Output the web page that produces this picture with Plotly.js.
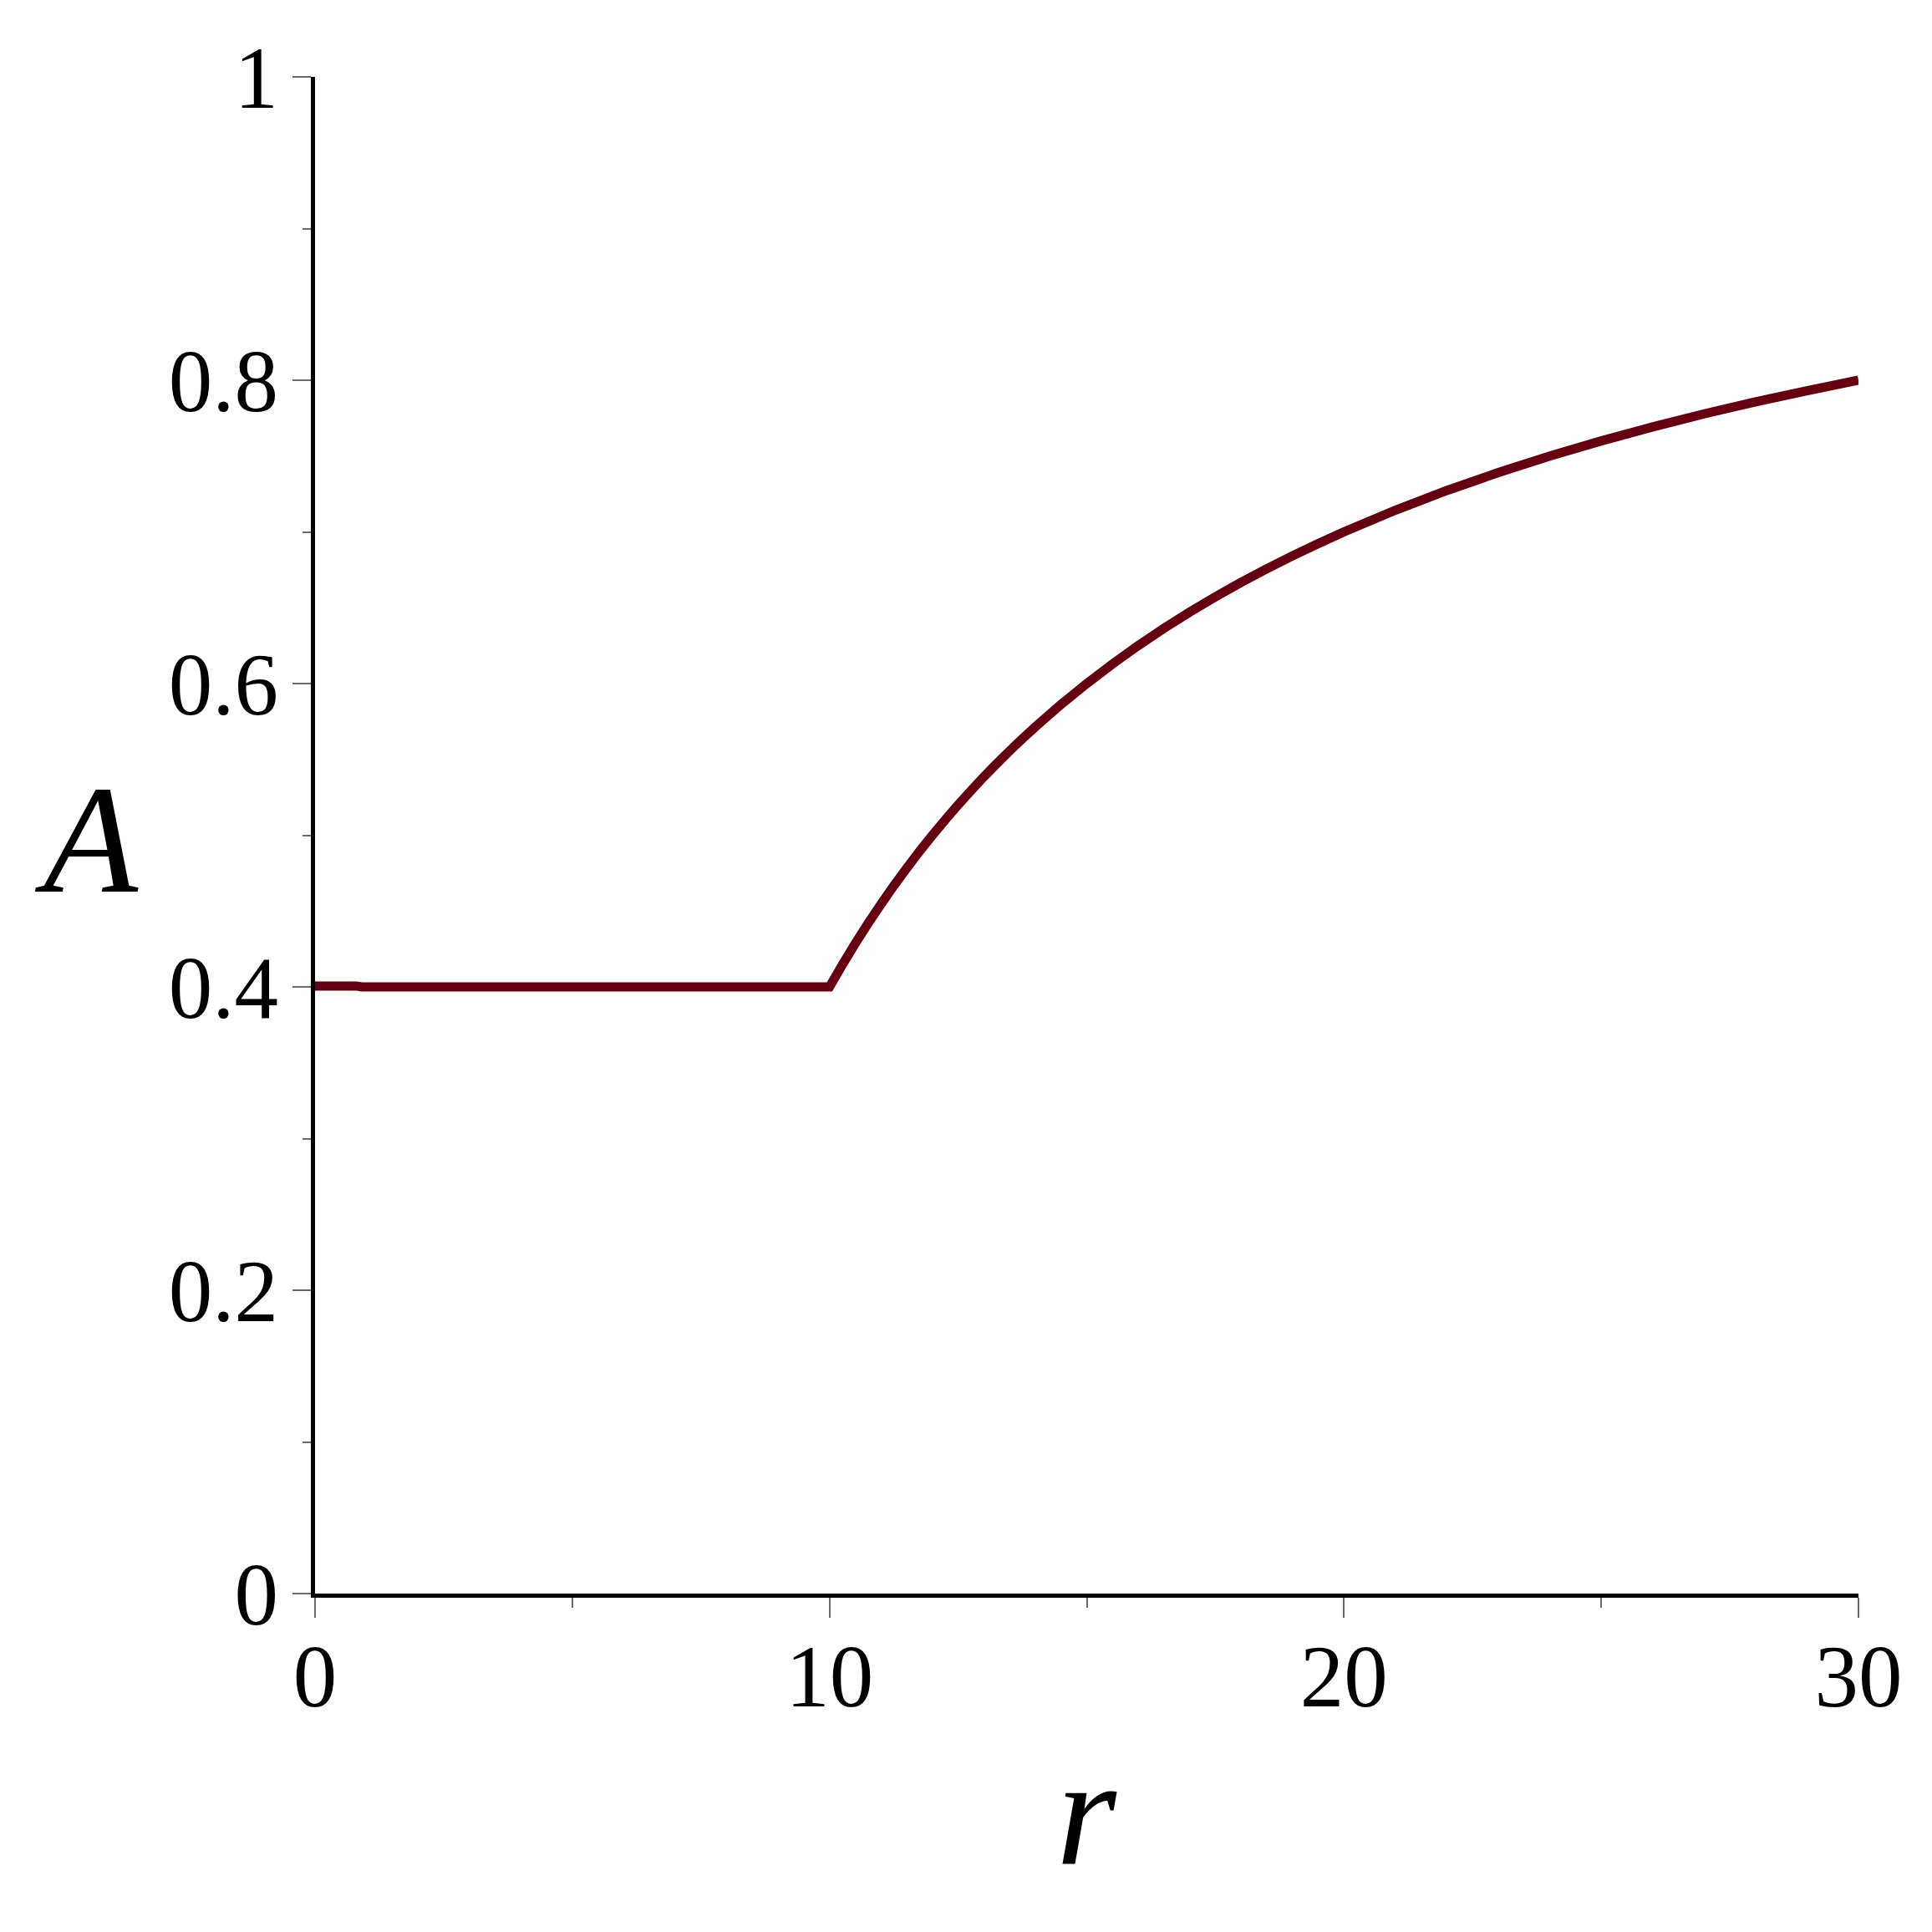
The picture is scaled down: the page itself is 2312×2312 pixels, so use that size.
<!DOCTYPE html>
<html>
<head>
<meta charset="utf-8">
<script src="https://cdn.plot.ly/plotly-3.0.1.min.js"></script>
<style>html,body{margin:0;padding:0;background:#fff;}#chart{width:2312px;height:2312px;}</style>
</head>
<body>
<div id="chart"></div>
<script>
// Data
const rFlat = [0, 0.8, 0.9, 2, 4, 6, 8, 10];
const aFlat = [0.4006, 0.4006, 0.4000, 0.4000, 0.4000, 0.4000, 0.4000, 0.4000];
const rRise = [10, 10.25, 10.5, 10.75, 11, 11.25, 11.5, 11.75, 12, 12.25, 12.5, 12.75, 13, 13.25, 13.5, 13.75, 14, 14.5, 15, 15.5, 16, 16.5, 17, 17.5, 18, 18.5, 19, 19.5, 20, 21, 22, 23, 24, 25, 26, 27, 28, 29, 30];
const aRise = [0.4000, 0.4146, 0.4286, 0.4419, 0.4545, 0.4667, 0.4783, 0.4894, 0.5000, 0.5102, 0.5200, 0.5294, 0.5385, 0.5472, 0.5556, 0.5636, 0.5714, 0.5862, 0.6000, 0.6129, 0.6250, 0.6364, 0.6471, 0.6571, 0.6667, 0.6757, 0.6842, 0.6923, 0.7000, 0.7143, 0.7273, 0.7391, 0.7500, 0.7600, 0.7692, 0.7778, 0.7857, 0.7931, 0.8000];
const xTickVals = [0, 10, 20, 30];
const xTickText = ["0", "10", "20", "30"];
const yTickVals = [0, 0.2, 0.4, 0.6, 0.8, 1];
const yTickText = ["0", "0.2", "0.4", "0.6", "0.8", "1"];
const xLabel = "r";
const yLabel = "A";

function fontAvailable(name) {
  const c = document.createElement("canvas").getContext("2d");
  const sample = "0.8 10 20 30 A r mmmwwwiii";
  const bases = ["monospace", "sans-serif"];
  for (const b of bases) {
    c.font = "72px " + b;
    const w0 = c.measureText(sample).width;
    c.font = "72px \"" + name + "\", " + b;
    const w1 = c.measureText(sample).width;
    if (Math.abs(w1 - w0) > 0.5) return true;
  }
  return false;
}
const candidates = ["Liberation Serif", "Times New Roman", "Tinos", "Nimbus Roman", "DejaVu Serif Condensed", "DejaVu Serif"];
let chosen = null;
for (const f of candidates) { if (fontAvailable(f)) { chosen = f; break; } }
const serif = chosen ? ("\"" + chosen + "\", serif") : "serif";
const curveColor = "#650010";

// one continuous curve: flat part followed by the rising part
const rAll = rFlat.concat(rRise.slice(1));
const aAll = aFlat.concat(aRise.slice(1));

const traces = [
  {
    x: rAll, y: aAll, type: "scatter", mode: "lines",
    line: {color: curveColor, width: 11, simplify: false},
    hoverinfo: "skip", showlegend: false
  }
];

const layout = {
  width: 2312,
  height: 2312,
  margin: {l: 377, r: 88, t: 92, b: 405, pad: 0},
  paper_bgcolor: "#ffffff",
  plot_bgcolor: "#ffffff",
  showlegend: false,
  xaxis: {
    range: [0, 30],
    showgrid: false,
    zeroline: false,
    showline: true,
    linecolor: "#000000",
    linewidth: 5,
    ticks: "outside",
    ticklen: 24,
    tickwidth: 2,
    tickcolor: "#6a6a6a",
    tickvals: xTickVals,
    ticktext: xTickText,
    ticklabelstandoff: -20,
    tickfont: {family: serif, size: 105, color: "#000000"},
    minor: {ticks: "outside", ticklen: 12, tickwidth: 2, tickcolor: "#6a6a6a", dtick: 5, showgrid: false},
    fixedrange: true
  },
  yaxis: {
    range: [0, 1],
    showgrid: false,
    zeroline: false,
    showline: true,
    linecolor: "#000000",
    linewidth: 5,
    ticks: "outside",
    ticklen: 22,
    tickwidth: 2,
    tickcolor: "#6a6a6a",
    tickvals: yTickVals,
    ticktext: yTickText,
    ticklabelstandoff: -4,
    tickfont: {family: serif, size: 105, color: "#000000"},
    minor: {ticks: "outside", ticklen: 10, tickwidth: 2, tickcolor: "#6a6a6a", dtick: 0.1, showgrid: false},
    fixedrange: true
  },
  annotations: [
    {
      text: "<i>" + xLabel + "</i>",
      xref: "paper", yref: "paper",
      x: 0.5, y: -0.144,
      xanchor: "center", yanchor: "middle",
      showarrow: false,
      font: {family: serif, size: 185, color: "#000000"}
    },
    {
      text: "<i>" + yLabel + "</i>",
      xref: "paper", yref: "paper",
      x: -0.148, y: 0.4975,
      xanchor: "center", yanchor: "middle",
      showarrow: false,
      font: {family: serif, size: 185, color: "#000000"}
    }
  ]
};

Plotly.newPlot("chart", traces, layout, {staticPlot: true, displayModeBar: false});
</script>
</body>
</html>
